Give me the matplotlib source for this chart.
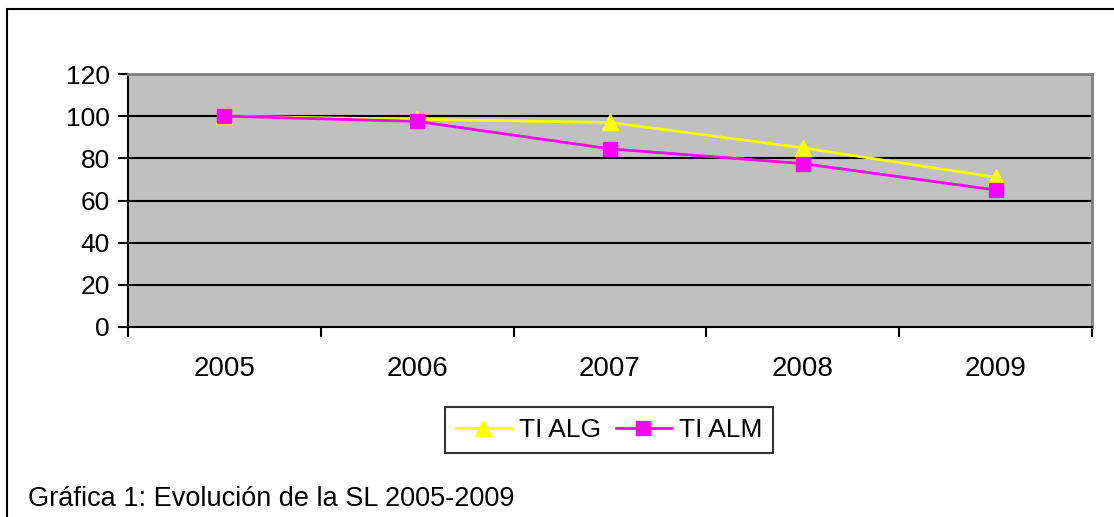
import matplotlib.pyplot as plt
from matplotlib.patches import Rectangle

plt.rcParams['font.family'] = ['Liberation Sans', 'DejaVu Sans']

years = ["2005", "2006", "2007", "2008", "2009"]
ti_alg = [100, 98.5, 97, 85, 71]
ti_alm = [100, 97.5, 84.5, 77.5, 65]
y_ticks = [0, 20, 40, 60, 80, 100, 120]

W, H = 1114, 517
fig = plt.figure(figsize=(W / 100, H / 100), dpi=100)

# marco exterior del gráfico
fig.patches.append(Rectangle((7 / W, -0.1), 1.2, (H - 9) / H + 0.1, transform=fig.transFigure,
                             fill=False, edgecolor="black", linewidth=1.5))

ax = fig.add_axes([128 / W, 1 - 327 / H, (1092 - 128) / W, (327 - 74) / H])
ax.set_facecolor("#c0c0c0")

x = range(len(years))
ax.plot(x, ti_alg, color="#ffff00", lw=2, marker="^", markersize=11, label="TI ALG")
ax.plot(x, ti_alm, color="#ff00ff", lw=2, marker="s", markersize=10, label="TI ALM")

ax.set_xlim(-0.5, len(years) - 0.5)
ax.set_ylim(0, 120)
ax.set_yticks(y_ticks)
for v in y_ticks[1:-1]:
    ax.axhline(v, color="black", lw=1.5, zorder=1)

ax.set_xticks(list(x))
ax.set_xticklabels(years)
ax.set_xticks([i - 0.5 for i in range(len(years) + 1)], minor=True)
ax.tick_params(axis="x", which="major", length=0, pad=21, labelsize=20)
ax.tick_params(axis="x", which="minor", length=7, width=1.5, direction="out")
ax.tick_params(axis="y", length=7, width=1.5, direction="out", labelsize=19, pad=6)

ax.spines["left"].set_color("black")
ax.spines["bottom"].set_color("black")
ax.spines["left"].set_linewidth(1.5)
ax.spines["bottom"].set_linewidth(1.5)
ax.spines["top"].set_color("#808080")
ax.spines["right"].set_color("#808080")
ax.spines["top"].set_linewidth(2)
ax.spines["right"].set_linewidth(2)

leg = fig.legend(loc="center", bbox_to_anchor=(609 / W, 1 - 430 / H), ncol=2,
                 fontsize=19, frameon=True, fancybox=False, handlelength=2.1,
                 handletextpad=0.3, columnspacing=0.55, borderpad=0.4,
                 borderaxespad=0)
leg.get_frame().set_edgecolor("black")
leg.get_frame().set_linewidth(1.5)

fig.text(28 / W, 1 - 499 / H, "Gráfica 1: Evolución de la SL 2005-2009",
         fontsize=19.5, va="center", ha="left")

fig.savefig("out.png", dpi=100)
